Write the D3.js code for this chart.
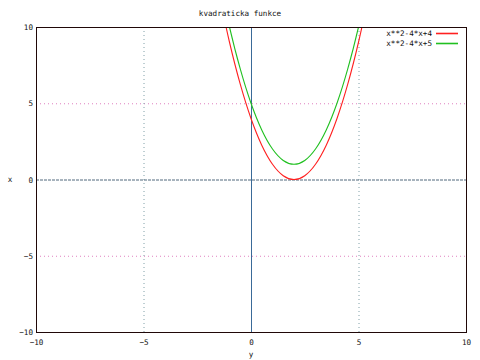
<!DOCTYPE html>
<html><head><meta charset="utf-8">
<script src="https://cdn.jsdelivr.net/npm/d3@7"></script>
<style>body{margin:0;background:#fff}svg{display:block}text{font-family:"DejaVu Sans Mono",monospace;font-size:7.6px;fill:#111}</style>
</head><body><svg id="c" width="480" height="360"></svg>
<script>
const title = "kvadraticka funkce";
const xTicks = [-10, -5, 0, 5, 10];
const yTicks = [-10, -5, 0, 5, 10];
const xs = [-1.5, -1, -0.5, 0, 0.5, 1, 1.5, 2, 2.5, 3, 3.5, 4, 4.5, 5, 5.5];
const series1 = [12.25, 9, 6.25, 4, 2.25, 1, 0.25, 0, 0.25, 1, 2.25, 4, 6.25, 9, 12.25];
const series2 = [13.25, 10, 7.25, 5, 3.25, 2, 1.25, 1, 1.25, 2, 3.25, 5, 7.25, 10, 13.25];
const names = ["x**2-4*x+4", "x**2-4*x+5"];
const colors = ["#ff2020", "#20c020"];

const svg = d3.select("#c");
const L = 36, R = 466, T = 27, B = 332;
const x = d3.scaleLinear().domain([-10, 10]).range([L, R]);
const y = d3.scaleLinear().domain([-10, 10]).range([B, T]);

svg.append("defs").append("clipPath").attr("id", "clip")
  .append("rect").attr("x", L).attr("y", T).attr("width", R - L).attr("height", B - T);

// grid
const g = svg.append("g");
yTicks.filter(v => v !== 0 && Math.abs(v) !== 10).forEach(v => {
  g.append("line").attr("x1", L).attr("x2", R).attr("y1", y(v) + 0.5).attr("y2", y(v) + 0.5)
    .attr("stroke", "#e080c0").attr("stroke-dasharray", "1,3");
});
xTicks.filter(v => v !== 0 && Math.abs(v) !== 10).forEach(v => {
  g.append("line").attr("y1", T).attr("y2", B).attr("x1", x(v) + 0.5).attr("x2", x(v) + 0.5)
    .attr("stroke", "#80a0a8").attr("stroke-dasharray", "1,3");
});
// zero axes
g.append("line").attr("x1", L).attr("x2", R).attr("y1", y(0) + 0.5).attr("y2", y(0) + 0.5)
  .attr("stroke", "#50687c").attr("stroke-dasharray", "3,1");
g.append("line").attr("y1", T).attr("y2", B).attr("x1", x(0) + 0.5).attr("x2", x(0) + 0.5)
  .attr("stroke", "#3a6a98");

// curves
const data = [series1, series2];
const line = d3.line().x((d, i) => x(xs[i])).y(d => y(d)).curve(d3.curveCatmullRom.alpha(0));
data.forEach((s, k) => {
  svg.append("path").attr("clip-path", "url(#clip)").datum(s).attr("d", line)
    .attr("fill", "none").attr("stroke", colors[k]).attr("stroke-width", 1.1);
});

// border
svg.append("rect").attr("x", L + 0.5).attr("y", T + 0.5).attr("width", R - L).attr("height", B - T)
  .attr("fill", "none").attr("stroke", "#200808");

// tick labels via d3 axes
const ax = d3.axisBottom(x).tickValues(xTicks).tickSize(0).tickPadding(0);
const xa = svg.append("g").attr("transform", `translate(0,${B + 13})`).call(ax);
xa.select(".domain").remove();
xa.selectAll("text").attr("dy", 0).style("font-size", "7.6px").style("font-family", "DejaVu Sans Mono").attr("fill", "#111");
const ay = d3.axisLeft(y).tickValues(yTicks).tickSize(0).tickPadding(0);
const ya = svg.append("g").attr("transform", `translate(${L - 3},0)`).call(ay);
ya.select(".domain").remove();
ya.selectAll("text").attr("dy", "0.35em").style("font-size", "7.6px").style("font-family", "DejaVu Sans Mono").attr("fill", "#111");

svg.append("text").attr("x", 240).attr("y", 16).attr("text-anchor", "middle").text(title);
svg.append("text").attr("x", 251).attr("y", 357).attr("text-anchor", "middle").text("y");
svg.append("text").attr("x", 10).attr("y", 182).attr("text-anchor", "middle").text("x");

// legend
names.forEach((n, k) => {
  const yy = 33 + k * 10;
  svg.append("text").attr("x", 432).attr("y", yy + 3).attr("text-anchor", "end").text(n);
  svg.append("line").attr("x1", 436).attr("x2", 458).attr("y1", yy + 0.5).attr("y2", yy + 0.5)
    .attr("stroke", colors[k]).attr("stroke-width", 1.6);
});
</script></body></html>
